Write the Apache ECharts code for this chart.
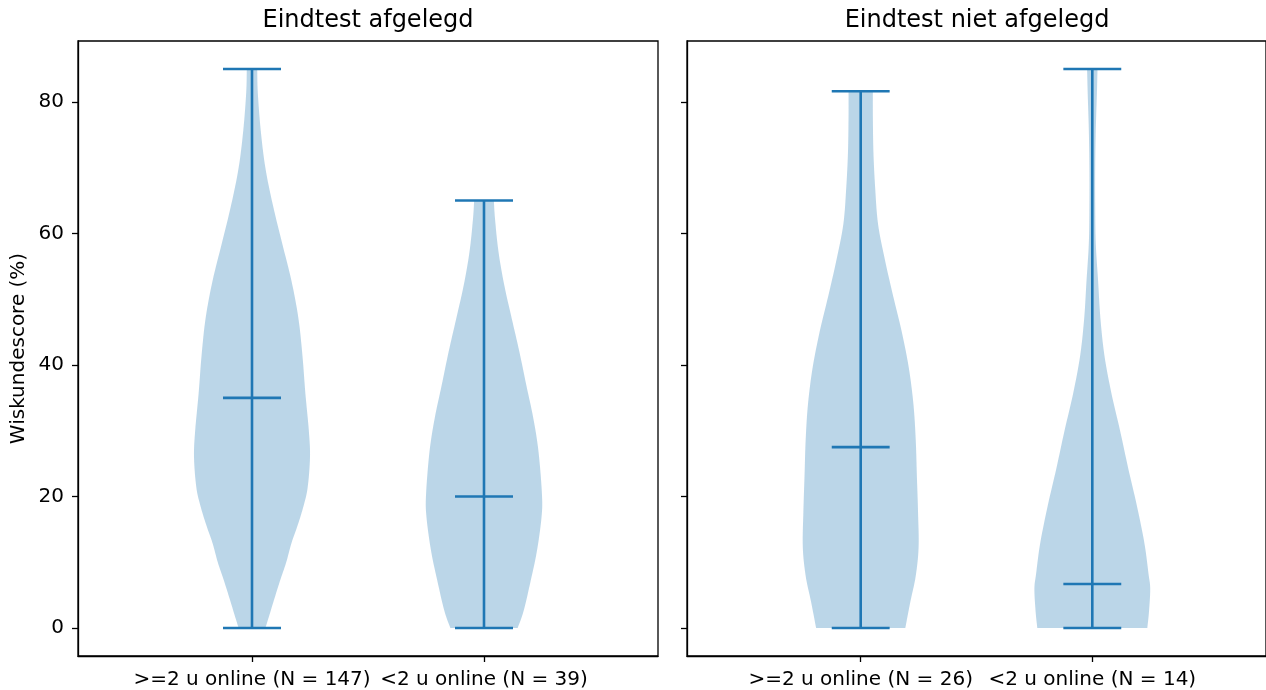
<!DOCTYPE html>
<html>
<head>
<meta charset="utf-8">
<script src="https://cdn.jsdelivr.net/npm/echarts@6/dist/echarts.min.js"></script>
<style>
  html, body { margin: 0; padding: 0; background: #fff; }
  #main { width: 1266px; height: 690px; }
</style>
</head>
<body>
<div id="main"></div>
<script>
// panels and groups
const panelTitles = ["Eindtest afgelegd", "Eindtest niet afgelegd"];
const groupLabels = [
  [">=2 u online (N = 147)", "<2 u online (N = 39)"],
  [">=2 u online (N = 26)", "<2 u online (N = 14)"],
];
const yTicks = [0, 20, 40, 60, 80];
const xPositions = [1, 2];

// min / max / mean per violin (left panel, then right panel)
const violinMin = [0, 0, 0, 0];
const violinMax = [85, 65, 81.6, 85];
const violinMean = [35, 20, 27.5, 6.7];

// density outline: level -> relative half width (1 = widest)
const levels1 = [85, 81.4, 75.7, 70.0, 64.3, 58.5, 52.8, 47.1, 41.4, 35.7, 30.0, 26.0, 21.4, 18.6, 15.7, 12.9, 10.0, 7.1, 4.3, 1.4, 0];
const widths1 = [0.09, 0.10, 0.15, 0.23, 0.36, 0.52, 0.68, 0.80, 0.87, 0.92, 0.98, 1.0, 0.96, 0.89, 0.79, 0.68, 0.59, 0.48, 0.38, 0.28, 0.23];

const levels2 = [65, 62.2, 57.2, 52.1, 47.0, 42.0, 36.9, 31.9, 26.8, 20.2, 16.7, 11.6, 6.6, 2.5, 0];
const widths2 = [0.17, 0.19, 0.25, 0.35, 0.48, 0.61, 0.73, 0.85, 0.94, 1.0, 0.99, 0.91, 0.79, 0.68, 0.58];

const levels3 = [81.6, 77.8, 72.3, 66.9, 61.4, 55.9, 50.5, 45.0, 39.6, 34.1, 28.7, 23.2, 17.7, 12.3, 7.9, 4.1, 0];
const widths3 = [0.21, 0.21, 0.22, 0.25, 0.30, 0.42, 0.56, 0.71, 0.83, 0.91, 0.95, 0.97, 0.99, 1.0, 0.95, 0.86, 0.77];

const levels4 = [85, 81.4, 75.7, 70.0, 64.3, 58.5, 52.8, 47.1, 41.4, 35.7, 30.0, 24.3, 18.6, 12.9, 8.3, 6.0, 2.6, 0];
const widths4 = [0.09, 0.08, 0.06, 0.05, 0.05, 0.06, 0.10, 0.14, 0.21, 0.33, 0.48, 0.62, 0.77, 0.90, 0.97, 1.0, 0.98, 0.95];

const profiles = [
  [{ levels: levels1, widths: widths1 }, { levels: levels2, widths: widths2 }],
  [{ levels: levels3, widths: widths3 }, { levels: levels4, widths: widths4 }],
];

const lineColor = "#1f77b4";
const bodyColor = "rgba(31,119,180,0.3)";
const halfWidth = 0.25; // violin width 0.5
const capHalf = 0.125;
const fontFamily = "DejaVu Sans";

// smooth an outline (pixel points) with a catmull-rom curve, only for drawing
function smoothPath(pts) {
  const out = [];
  for (let i = 0; i < pts.length - 1; i++) {
    const p0 = pts[Math.max(i - 1, 0)];
    const p1 = pts[i];
    const p2 = pts[i + 1];
    const p3 = pts[Math.min(i + 2, pts.length - 1)];
    for (let s = 0; s < 8; s++) {
      const t = s / 8, t2 = t * t, t3 = t2 * t;
      out.push([0, 1].map(function (d) {
        return 0.5 * (2 * p1[d] + (-p0[d] + p2[d]) * t +
          (2 * p0[d] - 5 * p1[d] + 4 * p2[d] - p3[d]) * t2 +
          (-p0[d] + 3 * p1[d] - 3 * p2[d] + p3[d]) * t3);
      }));
    }
  }
  out.push(pts[pts.length - 1]);
  return out;
}

function violinSeries(panel) {
  const data = xPositions.map(function (x, i) {
    const k = panel * 2 + i;
    return [x, violinMin[k], violinMax[k], violinMean[k]];
  });
  return {
    type: "custom",
    xAxisIndex: panel,
    yAxisIndex: panel,
    data: data,
    renderItem: function (params, api) {
      const pos = api.value(0);
      const lo = api.value(1);
      const hi = api.value(2);
      const mean = api.value(3);
      const prof = profiles[panel][params.dataIndex];
      const right = smoothPath(prof.levels.map(function (v, i) {
        return api.coord([pos + prof.widths[i] * halfWidth, v]);
      }));
      const left = smoothPath(prof.levels.map(function (v, i) {
        return api.coord([pos - prof.widths[i] * halfWidth, v]);
      })).reverse();

      function seg(x0, y0, x1, y1) {
        const a = api.coord([x0, y0]);
        const b = api.coord([x1, y1]);
        return {
          type: "line",
          shape: { x1: a[0], y1: a[1], x2: b[0], y2: b[1] },
          style: { stroke: lineColor, lineWidth: 2.6 },
        };
      }

      return {
        type: "group",
        children: [
          { type: "polygon", shape: { points: right.concat(left) }, style: { fill: bodyColor } },
          seg(pos, lo, pos, hi),
          seg(pos - capHalf, lo, pos + capHalf, lo),
          seg(pos - capHalf, hi, pos + capHalf, hi),
          seg(pos - capHalf, mean, pos + capHalf, mean),
        ],
      };
    },
  };
}

const grids = [
  { left: 78, top: 41, width: 580, height: 616 },
  { left: 687, top: 41, width: 580, height: 616 },
];

let myChart = echarts.init(document.getElementById("main"));
let option = {
  backgroundColor: "#fff",
  animation: false,
  textStyle: { fontFamily: fontFamily },
  title: panelTitles.map(function (t, i) {
    return {
      text: t,
      left: grids[i].left + grids[i].width / 2,
      top: 9,
      padding: 0,
      textAlign: "center",
      textStyle: { fontFamily: fontFamily, fontSize: 24, fontWeight: "normal", color: "#000" },
    };
  }),
  grid: grids.map(function (g) {
    return Object.assign({ show: true, borderColor: "#000", borderWidth: 1.3, backgroundColor: "transparent" }, g);
  }),
  xAxis: [0, 1].map(function (p) {
    return {
      type: "value",
      gridIndex: p,
      min: 0.25,
      max: 2.75,
      splitLine: { show: false },
      axisLine: { show: true, onZero: false, lineStyle: { color: "#000", width: 1.3 } },
      axisTick: { show: true, length: 6, customValues: xPositions, lineStyle: { color: "#000", width: 1.3 } },
      axisLabel: {
        customValues: xPositions,
        margin: 14,
        fontSize: 20,
        color: "#000",
        fontFamily: fontFamily,
        formatter: function (v) {
          const idx = xPositions.indexOf(Math.round(v));
          return idx >= 0 ? groupLabels[p][idx] : "";
        },
      },
    };
  }),
  yAxis: [0, 1].map(function (p) {
    return {
      type: "value",
      gridIndex: p,
      min: -4.25,
      max: 89.25,
      name: p === 0 ? "Wiskundescore (%)" : "",
      nameLocation: "middle",
      nameGap: 49,
      nameTextStyle: { fontSize: 20, color: "#000", fontFamily: fontFamily },
      splitLine: { show: false },
      axisLine: { show: true, onZero: false, lineStyle: { color: "#000", width: 1.3 } },
      axisTick: { show: true, length: 6, customValues: yTicks, lineStyle: { color: "#000", width: 1.3 } },
      axisLabel: {
        show: p === 0,
        customValues: yTicks,
        margin: 14,
        fontSize: 20,
        color: "#000",
        fontFamily: fontFamily,
      },
    };
  }),
  series: [violinSeries(0), violinSeries(1)],
};
myChart.setOption(option);
window.onresize = function () {
  myChart.resize();
};
</script>
</body>
</html>
